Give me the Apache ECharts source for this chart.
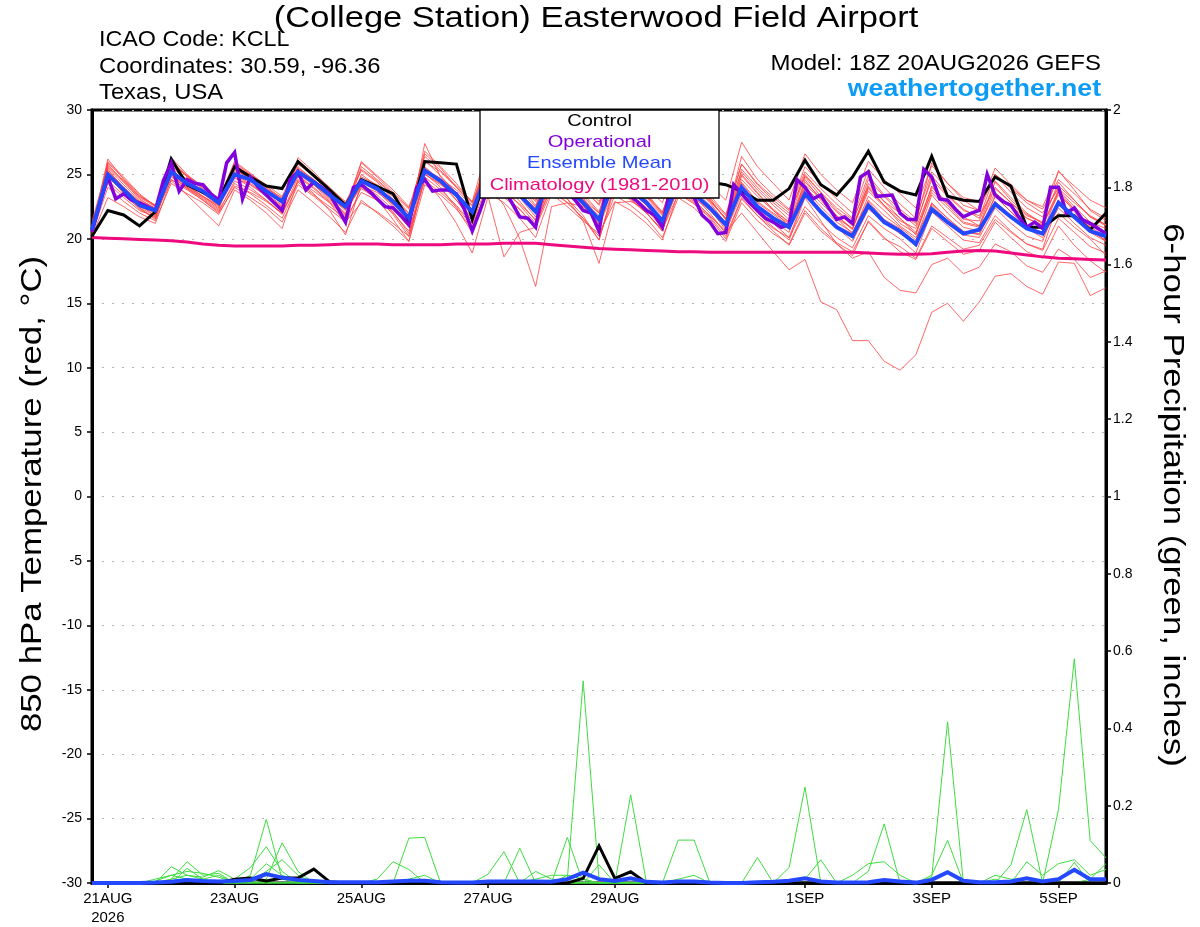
<!DOCTYPE html>
<html><head><meta charset="utf-8">
<script src="https://cdn.jsdelivr.net/npm/echarts@6/dist/echarts.min.js"></script>
<style>html,body{margin:0;padding:0;background:#fff}#c{width:1200px;height:927px}</style>
</head><body><div id="c"></div>
<script>
// ---- time axis (hours after 18Z 20AUG2026) ----
const tickHours = [6, 54, 102, 150, 198, 270, 318, 366];
const tickLabels = ['21AUG\n2026', '23AUG', '25AUG', '27AUG', '29AUG', '1SEP', '3SEP', '5SEP'];

// ---- 850 hPa temperature (C), 6-hourly, 65 values ----
const controlTemp = [20.2,
  22.2,21.85,21.0,22.1, 26.2,24.2,23.6,23.0, 25.6,24.8,24.1,23.9, 26.0,24.9,23.8,22.6,
  24.6,24.05,23.5,21.4, 26.0,25.9,25.8,21.5, 25.5,25.0,24.8,24.0, 26.0,25.3,24.5,24.0,
  25.8,25.0,24.3,23.8, 25.5,24.8,24.4,24.2, 23.7,23.0,23.0,23.9, 26.1,24.2,23.4,24.8,
  26.8,24.4,23.7,23.4, 26.4,23.3,23.0,22.9, 24.8,24.1,20.9,20.9, 21.8,21.8,20.7,22.0];

const meanTemp = [20.7,
  25.0,23.8,22.6,22.2, 25.2,24.3,23.7,22.8, 25.0,24.6,23.7,22.9, 25.2,24.4,23.4,22.5,
  24.5,23.9,22.9,21.6, 25.3,24.5,23.4,22.1, 25.3,24.3,23.4,22.1, 24.8,24.0,22.8,21.5,
  24.6,23.8,22.8,21.4, 24.3,23.5,22.4,21.1, 24.0,22.5,21.6,20.9, 23.5,22.1,20.9,20.2,
  22.6,21.3,20.6,19.6, 22.3,21.3,20.4,20.7, 22.7,21.7,20.8,20.4, 22.8,21.7,20.6,20.2];

const climatology = [20.1,
  20.05,20.0,19.95,19.9, 19.85,19.75,19.6,19.5, 19.45,19.45,19.45,19.45, 19.5,19.5,19.55,19.6,
  19.6,19.6,19.55,19.55, 19.55,19.55,19.6,19.6, 19.6,19.65,19.65,19.65, 19.55,19.45,19.35,19.25,
  19.2,19.15,19.1,19.05, 19.0,19.0,18.95,18.95, 18.95,18.95,18.95,18.95, 18.95,18.95,18.95,18.95,
  18.9,18.85,18.8,18.8, 18.85,18.95,19.05,19.1, 19.05,18.9,18.75,18.6, 18.5,18.45,18.4,18.35];

// operational run, 3-hourly, 129 values
const operationalTemp = [20.55,
  22.7,24.8,23.1,23.5,23.0,22.8,22.5,22.2, 24.5,25.9,23.7,24.6,24.3,24.2,23.5,23.0,
  25.9,26.7,23.1,24.8,24.0,23.4,22.8,22.2, 24.6,25.2,23.8,24.4,24.0,23.5,22.4,21.3,
  24.0,24.2,23.7,23.1,22.5,22.4,21.8,21.1, 24.0,24.6,23.7,23.8,23.8,23.5,22.3,20.6,
  22.2,24.0,24.5,23.8,22.8,21.7,21.6,20.9, 24.0,24.8,23.5,23.6,23.0,22.2,22.0,20.6,
  24.2,24.6,23.5,23.3,22.8,22.2,21.85,20.9, 24.0,24.5,23.5,23.2,21.85,21.3,20.4,20.5,
  24.2,23.5,22.8,22.2,21.6,21.3,20.9,21.1, 24.6,24.0,23.1,23.4,22.4,21.5,21.7,21.2,
  24.8,25.2,23.3,23.35,23.4,22.0,21.5,21.5, 25.4,24.8,23.1,23.0,22.3,21.7,22.0,22.2,
  25.0,23.4,22.9,22.6,21.7,20.9,21.3,20.8, 24.0,24.0,22.0,22.4,21.5,21.2,20.8,20.4];

// ensemble members, 6-hourly, 65 values each
const ensembleMembers = [
 [20.8, 26.2,24.6,23.3,22.6, 25.8,24.9,24.1,23.0, 25.6,25.0,24.2,23.3, 25.9,25.0,24.0,22.8, 25.4,24.5,23.4,22.0, 26.8,25.6,24.3,22.8, 26.2,25.3,24.2,22.6, 25.9,24.8,23.5,22.1, 25.8,24.6,23.4,22.0, 25.6,24.5,23.2,21.8, 25.2,23.8,22.6,21.5, 24.8,23.3,22.1,21.0, 23.9,22.6,21.6,20.5, 23.6,22.4,21.2,20.9, 24.0,22.8,21.6,21.0, 23.8,22.5,21.3,20.8],
 [20.4, 24.0,22.9,22.0,21.4, 24.3,23.5,22.8,21.9, 24.1,23.6,22.9,22.0, 24.4,23.4,22.5,21.6, 23.6,23.0,22.0,20.6, 24.5,23.6,22.5,21.0, 24.0,23.2,22.3,20.9, 23.7,22.8,21.6,20.2, 23.4,22.6,21.6,20.1, 23.2,22.4,21.2,19.8, 22.8,21.4,20.4,19.6, 22.2,20.8,19.7,19.0, 21.3,20.0,19.4,18.5, 21.0,20.1,19.2,19.5, 21.5,20.5,19.6,19.1, 21.6,20.5,19.4,18.9],
 [20.6, 25.5,24.2,23.0,22.4, 25.9,24.8,24.0,23.1, 25.3,24.8,23.9,23.2, 25.5,24.6,23.6,22.7, 24.8,24.2,23.3,21.9, 26.0,25.2,24.0,22.8, 25.8,25.0,24.1,22.9, 25.6,24.8,23.8,22.7, 25.9,25.1,24.0,22.8, 26.2,25.3,24.2,23.0, 27.5,25.6,24.3,23.0, 26.6,25.0,23.8,22.8, 26.0,24.6,23.5,22.4, 25.7,24.3,23.2,22.9, 25.0,24.0,23.0,22.5, 25.2,24.1,23.0,22.4],
 [21.0, 25.0,23.5,22.3,21.6, 24.9,23.9,23.0,22.1, 24.5,23.8,23.0,22.0, 24.8,23.9,22.8,21.2, 24.0,23.1,21.5,19.8, 25.1,24.0,22.4,20.5, 24.2,22.6,20.0,16.3, 22.5,22.8,22.5,21.6, 24.8,23.8,22.7,21.5, 24.5,23.6,22.5,21.2, 24.3,22.8,21.9,21.0, 23.9,22.5,21.3,20.5, 23.0,21.8,20.9,19.9, 23.4,22.0,20.9,20.6, 23.3,22.1,21.0,20.5, 23.7,22.3,20.9,20.2],
 [20.9, 25.3,24.0,22.8,22.1, 25.4,24.3,23.5,22.6, 24.9,24.2,23.4,22.5, 25.0,24.2,23.2,22.2, 24.7,23.9,22.8,21.3, 25.5,24.6,23.3,21.8, 25.2,24.3,23.2,21.7, 24.6,23.8,22.6,21.2, 24.2,23.5,22.4,21.0, 23.8,22.9,21.8,20.5, 22.0,20.5,19.0,17.6, 18.4,15.1,14.5,12.1, 12.1,10.5,9.8,11.0, 14.3,15.0,13.6,15.1, 17.1,17.3,16.3,15.7, 18.2,18.1,15.6,16.2],
 [20.5, 25.8,24.4,23.1,22.3, 25.0,24.1,23.3,22.4, 25.2,24.5,23.6,22.8, 25.3,24.3,23.1,22.0, 24.2,23.4,22.3,20.9, 25.6,24.5,23.0,21.6, 25.3,24.5,23.6,22.3, 25.0,24.3,23.1,21.5, 24.6,23.7,22.6,21.3, 24.0,23.0,21.8,20.6, 23.5,22.0,20.9,19.9, 23.2,21.4,19.6,18.5, 19.0,17.0,16.0,15.8, 18.0,18.5,17.3,17.8, 19.6,19.0,17.9,17.4, 19.2,18.4,17.0,17.5],
 [20.3, 26.0,24.8,23.5,22.5, 26.1,24.9,23.8,22.8, 25.4,24.6,23.7,22.7, 25.6,24.5,23.3,22.3, 25.9,24.8,23.6,22.4, 26.4,25.3,24.1,22.9, 27.2,25.5,23.8,22.5, 25.3,24.4,23.3,22.0, 25.6,24.6,23.5,22.1, 25.2,24.2,23.0,21.5, 24.6,23.3,22.2,21.3, 24.4,23.2,21.8,20.7, 24.3,22.9,21.6,20.3, 23.8,22.6,21.3,21.0, 24.5,23.2,22.0,21.2, 25.3,23.8,22.2,21.4],
 [21.2, 24.8,23.6,22.5,22.0, 25.7,24.6,23.6,22.9, 25.8,24.9,23.8,22.9, 26.1,25.0,23.8,22.6, 24.1,23.6,22.7,21.8, 25.0,24.2,23.4,22.3, 24.7,24.0,23.4,22.4, 24.1,23.7,23.0,22.0, 24.5,23.9,23.0,21.8, 24.9,24.0,22.9,21.6, 24.4,22.9,22.0,21.2, 23.5,22.0,21.0,20.4, 22.9,21.5,20.8,19.4, 22.6,21.4,20.3,20.1, 22.4,21.2,20.2,19.8, 23.0,21.8,20.6,19.9],
 [20.7, 25.4,23.9,22.6,21.8, 26.3,25.0,24.0,23.0, 25.0,24.3,23.5,22.6, 24.9,24.0,22.9,21.8, 25.0,24.1,22.6,20.9, 27.4,24.8,23.6,22.2, 26.5,25.4,24.3,23.0, 26.2,25.2,24.0,22.6, 25.2,24.3,23.2,21.9, 26.0,24.8,23.4,21.9, 25.8,24.3,23.2,22.2, 25.6,24.3,23.1,22.0, 25.4,24.0,22.7,21.6, 25.2,23.9,22.6,22.2, 25.5,24.2,23.0,22.3, 24.6,23.5,22.3,21.6],
 [20.2, 23.2,22.5,21.7,21.2, 24.6,23.8,23.0,22.0, 24.0,23.2,22.4,21.3, 23.8,22.8,21.7,20.5, 23.0,22.0,21.0,19.8, 24.2,23.4,22.3,20.8, 23.6,22.8,21.6,20.1, 23.5,22.5,21.4,20.4, 22.9,22.2,21.2,19.9, 23.6,22.8,21.6,20.0, 23.1,21.8,20.6,19.5, 22.0,20.6,19.6,18.7, 21.4,20.1,19.0,18.4, 20.8,19.8,18.8,19.1, 21.3,20.1,19.0,18.5, 21.0,19.5,18.3,17.4],
 [20.9, 25.9,24.7,23.4,22.6, 25.5,24.6,23.7,22.8, 25.9,25.0,24.0,23.0, 25.2,24.3,23.3,22.3, 26.0,24.9,23.8,22.5, 25.2,24.4,23.4,22.0, 25.5,24.6,23.5,22.3, 26.3,25.4,24.2,22.9, 25.1,24.3,23.3,22.0, 24.7,24.0,23.0,21.6, 25.8,24.2,23.0,22.0, 24.9,23.6,22.4,21.5, 24.1,22.9,22.0,21.2, 24.6,23.3,22.2,21.8, 23.9,22.8,21.8,21.3, 24.4,23.0,21.7,21.1],
 [21.4, 25.6,24.4,23.2,22.5, 24.6,23.9,23.2,22.3, 25.6,24.8,23.8,22.8, 25.1,24.2,23.0,21.9, 24.4,23.7,22.5,21.0, 26.1,24.9,23.5,21.9, 24.5,23.4,22.3,20.9, 24.9,24.0,22.9,21.8, 25.3,24.3,23.0,21.4, 23.9,23.2,22.2,20.9, 23.8,22.6,21.4,20.5, 24.6,23.0,21.6,20.4, 23.3,22.2,21.0,20.1, 22.7,21.6,20.5,20.4, 23.3,22.1,20.8,20.1, 22.4,21.2,20.1,19.5],
 [20.6, 24.5,23.4,22.4,21.8, 25.2,24.2,23.3,22.5, 24.7,24.2,23.3,22.4, 25.4,24.6,23.6,22.5, 23.9,23.1,22.1,20.4, 25.3,24.3,23.0,21.4, 25.0,23.9,22.6,21.2, 23.9,22.8,21.6,19.9, 24.0,23.1,22.0,20.7, 23.5,22.7,21.7,20.2, 23.2,21.8,20.8,20.1, 22.5,21.2,20.1,19.3, 21.8,20.8,20.0,18.9, 22.1,21.0,19.9,19.7, 21.8,20.6,19.6,19.2, 22.9,21.7,20.5,19.8],
 [20.5, 25.2,24.0,22.9,22.2, 25.9,24.9,23.9,23.1, 26.0,25.1,24.1,23.1, 25.8,24.9,23.9,22.9, 24.5,24.0,23.0,21.6, 26.6,25.5,24.0,22.6, 25.7,24.7,23.5,22.0, 25.3,24.2,22.8,21.0, 25.0,24.0,22.8,21.2, 25.4,24.4,23.1,21.5, 26.4,24.6,23.4,22.3, 25.2,23.9,22.7,21.6, 24.9,23.4,22.3,21.3, 25.9,24.3,23.0,22.2, 25.0,23.9,22.8,22.0, 23.9,22.8,21.8,21.1],
 [21.1, 24.3,23.2,22.2,21.7, 25.0,24.0,23.1,22.2, 24.3,23.5,22.6,21.6, 24.2,23.3,22.3,21.3, 22.8,22.1,21.2,20.2, 24.8,23.8,22.6,21.2, 24.4,23.6,22.7,21.5, 24.7,23.6,22.5,21.1, 23.8,23.0,22.0,20.6, 24.2,23.3,22.0,20.4, 24.1,22.4,21.2,20.1, 23.4,22.0,20.9,19.8, 22.3,21.3,20.4,19.6, 22.8,21.6,20.6,20.3, 22.9,21.8,20.9,20.5, 22.0,20.9,20.0,18.7],
 [20.4, 25.7,24.5,23.3,22.6, 24.8,24.0,23.3,22.6, 25.5,24.6,23.4,22.3, 26.3,25.2,23.9,22.7, 25.3,24.4,23.1,21.4, 25.0,24.3,23.3,22.0, 25.6,24.4,22.9,21.4, 24.4,23.1,21.8,19.9, 24.3,23.3,22.0,20.6, 24.7,23.6,22.3,20.7, 24.9,23.5,22.3,21.3, 24.0,22.8,21.6,20.8, 23.7,22.5,21.4,20.8, 24.0,22.8,21.7,21.0, 23.6,22.5,21.6,21.1, 23.4,22.3,21.0,20.4],
 [20.8, 24.9,23.9,22.8,22.0, 24.5,23.4,22.2,21.0, 23.8,23.0,22.0,20.8, 24.6,23.5,22.2,20.3, 24.3,23.2,21.9,20.2, 24.6,23.1,21.2,18.9, 23.3,18.6,20.5,20.9, 24.3,23.1,21.4,18.1, 22.8,22.9,22.3,20.8, 24.6,23.8,22.6,21.3, 25.0,23.6,22.2,21.0, 24.2,23.1,21.8,20.8, 24.0,22.6,21.2,20.4, 24.1,22.7,21.5,21.4, 24.4,23.0,21.9,21.2, 23.6,22.1,20.8,19.8],
 [20.3, 25.1,23.7,22.4,21.5, 25.3,24.4,23.5,22.7, 24.8,24.0,23.0,21.9, 24.5,23.7,22.8,21.7, 25.6,24.6,23.5,22.3, 25.4,24.7,23.8,22.5, 26.8,25.2,23.7,22.0, 25.6,24.6,23.2,21.5, 24.9,23.9,22.6,20.9, 25.1,24.1,22.8,21.2, 25.4,24.0,22.8,21.8, 25.0,23.6,22.2,21.2, 24.6,23.3,22.0,21.0, 24.9,23.4,22.3,21.6, 25.0,23.6,22.4,21.7, 24.1,23.0,21.7,21.0]
];

// ---- 6-hour precipitation (inches), 6-hourly, 65 values ----
const controlPrecip = [0,0,0,0,0, 0,0,0,0,0.01, 0.013,0.005,0.013,0.013,0.036, 0.003,0,0,0,0, 0,0,0,0,0,
  0,0,0,0,0, 0,0.012,0.096,0.012,0.029, 0,0,0,0,0, 0,0,0,0,0, 0,0,0,0,0, 0,0,0,0,0, 0,0,0,0,0, 0,0,0,0,0];
const meanPrecip = [0,0,0,0,0.001, 0.003,0.008,0.005,0.004,0.005, 0.008,0.023,0.014,0.008,0.005, 0.002,0.002,0.002,0.002,0.004,
  0.006,0.006,0.002,0.001,0.001, 0.004,0.004,0.004,0.004,0.003, 0.01,0.027,0.01,0.005,0.012, 0.003,0.001,0.004,0.004,0.001,
  0,0,0.002,0.003,0.006, 0.012,0.004,0.001,0.001,0.002, 0.008,0.004,0.001,0.008,0.028, 0.006,0.002,0.002,0.004,0.012,
  0.004,0.01,0.034,0.01,0.01];
const memberPrecip = [
 [0,0,0,0,0.005, 0.02,0.01,0,0,0, 0.02,0.165,0.01,0,0, 0,0,0,0,0, 0,0,0,0,0, 0,0,0,0,0, 0.01,0.523,0.01,0,0, 0,0,0,0,0, 0,0,0,0,0, 0,0,0,0,0, 0,0,0,0.01,0.03, 0,0,0,0,0, 0,0,0,0,0],
 [0,0,0,0,0, 0.01,0.02,0.015,0.032,0.01, 0.04,0.094,0.03,0,0, 0,0,0,0,0, 0,0,0,0,0, 0,0,0,0,0, 0,0,0.047,0,0, 0,0,0,0,0, 0,0,0,0,0, 0,0,0,0,0, 0,0,0,0.015,0.417, 0,0,0,0,0, 0,0,0,0,0],
 [0,0,0,0,0, 0,0,0,0,0, 0,0.01,0.104,0.03,0, 0,0,0,0,0, 0,0,0,0,0, 0,0,0,0.03,0.01, 0,0,0,0,0.228, 0,0,0,0,0, 0,0,0,0,0, 0,0,0,0,0, 0,0,0,0,0, 0,0,0,0,0, 0,0,0,0.01,0.05],
 [0,0,0,0,0, 0.042,0.02,0.01,0,0, 0,0,0,0,0, 0,0,0,0.01,0.055, 0.035,0,0,0,0, 0,0,0,0,0, 0,0,0,0,0, 0,0,0.111,0.111,0, 0,0,0,0,0, 0,0,0,0,0, 0,0,0,0,0, 0,0,0,0.047,0.19, 0,0,0,0,0],
 [0,0,0,0,0, 0.01,0.055,0.02,0.025,0, 0,0,0,0,0, 0,0,0,0,0, 0.116,0.118,0,0,0, 0,0,0,0,0, 0,0,0,0,0, 0,0,0,0,0, 0,0,0.066,0,0, 0,0,0,0,0, 0,0,0,0,0, 0,0,0,0,0, 0,0.19,0.58,0.11,0.065],
 [0,0,0,0,0, 0,0.038,0.01,0.02,0, 0.01,0.05,0.02,0,0, 0,0,0,0,0, 0,0,0,0,0, 0.023,0.081,0,0,0, 0,0,0,0,0, 0,0,0,0,0, 0,0,0,0,0.04, 0.248,0,0,0,0, 0,0,0,0,0, 0,0,0,0,0, 0,0,0,0,0],
 [0,0,0,0,0, 0,0,0,0,0, 0.005,0.03,0.06,0.02,0, 0,0,0,0,0, 0,0,0,0,0, 0,0,0.09,0,0, 0.02,0.01,0,0,0, 0,0,0,0,0, 0,0,0,0,0, 0.01,0.06,0,0,0, 0,0,0,0,0, 0,0,0.01,0,0.055, 0.02,0.05,0.06,0.02,0.035],
 [0,0,0,0,0, 0,0,0,0,0, 0,0,0,0,0, 0,0,0,0,0, 0,0,0,0,0, 0,0,0,0,0, 0.118,0,0,0,0, 0,0,0,0,0, 0,0,0,0,0, 0,0,0,0,0.03, 0.153,0,0,0,0, 0,0,0,0,0, 0,0,0,0,0],
 [0,0,0,0,0, 0,0,0,0,0, 0,0,0,0,0, 0,0,0,0,0, 0,0,0,0,0, 0,0,0,0,0, 0,0,0,0,0, 0,0,0,0,0, 0,0,0,0,0, 0,0,0,0.02,0.05, 0.055,0.02,0,0.02,0.11, 0,0,0,0,0, 0,0,0.053,0,0],
 [0,0,0,0,0.01, 0.02,0.03,0.025,0.015,0, 0,0,0,0,0, 0,0,0,0,0, 0.01,0.02,0,0,0, 0,0,0,0.01,0.02, 0.02,0.01,0,0,0, 0,0,0.01,0.02,0, 0,0,0,0,0, 0,0,0,0,0, 0,0,0,0,0, 0,0,0.02,0.01,0.01, 0,0,0,0,0]
];

// ---- styling constants ----
const FONT = '"Liberation Sans", Arial, Helvetica, sans-serif';
const RED = 'rgba(255,62,62,0.78)';
const GREEN = '#3fdc3f';
const PURPLE = '#8200dc';
const BLUE = '#2448ff';
const MAGENTA = '#ee0a7e';

const six = arr => arr.map((v, i) => [i * 6, v]);
const three = arr => arr.map((v, j) => [j * 3, v]);

const baseLine = (name, data, yIdx, color, width, z) => ({
  name, type: 'line', data, yAxisIndex: yIdx, symbol: 'none', silent: true,
  lineStyle: { color, width, join: 'miter' }, z, animation: false, clip: true
});

const series = [];
ensembleMembers.forEach((m, k) => series.push(baseLine('m' + k, six(m), 0, RED, 1, 2)));
memberPrecip.forEach((m, k) => series.push(baseLine('p' + k, six(m), 1, GREEN, 1, 2)));
series.push(baseLine('Climatology', six(climatology), 0, MAGENTA, 3, 5));
series.push(baseLine('Control', six(controlTemp), 0, '#000', 3, 6));
series.push(baseLine('ControlP', six(controlPrecip), 1, '#000', 3, 6));
series.push(baseLine('Operational', three(operationalTemp), 0, PURPLE, 3.5, 7));
series.push(baseLine('Mean', six(meanTemp), 0, BLUE, 4, 8));
series.push(baseLine('MeanP', six(meanPrecip), 1, BLUE, 4, 8));

const txt = (text, x, y, size, opts = {}) => ({
  type: 'text', x, y, z: 200, scaleX: opts.sx || 1.08, rotation: opts.rot || 0,
  style: {
    text, fill: opts.color || '#000',
    font: (opts.bold ? 'bold ' : '') + size + 'px ' + FONT,
    textAlign: opts.align || 'left', textVerticalAlign: 'middle'
  }
});

const chart = echarts.init(document.getElementById('c'), null, { renderer: 'canvas' });
chart.setOption({
  animation: false,
  backgroundColor: '#fff',
  grid: { left: 92, right: 94, top: 110, bottom: 44, show: true, borderColor: '#000', borderWidth: 3, backgroundColor: 'transparent' },
  xAxis: {
    type: 'value', min: 0, max: 384,
    axisLine: { show: true, onZero: false, lineStyle: { color: '#000', width: 3 } },
    axisTick: { show: true, customValues: tickHours, length: 5, lineStyle: { color: '#000', width: 1.5 } },
    axisLabel: {
      customValues: tickHours, color: '#000', fontSize: 15, fontFamily: FONT, margin: 6, lineHeight: 19,
      formatter: v => { const k = tickHours.indexOf(v); return k >= 0 ? tickLabels[k] : ''; }
    },
    splitLine: { show: false }
  },
  yAxis: [{
    type: 'value', min: -30, max: 30, interval: 5, position: 'left',
    axisLine: { show: true, onZero: false, lineStyle: { color: '#000', width: 3 } },
    axisTick: { show: true, length: 5, lineStyle: { color: '#000', width: 1.5 } },
    axisLabel: { color: '#000', fontSize: 14, fontFamily: FONT, margin: 10 },
    splitLine: { show: true, lineStyle: { color: '#b4b4b4', width: 1.2, type: [2, 8] } }
  }, {
    type: 'value', min: 0, max: 2, interval: 0.2, position: 'right',
    axisLine: { show: true, onZero: false, lineStyle: { color: '#000', width: 3 } },
    axisTick: { show: true, length: 5, lineStyle: { color: '#000', width: 1.5 } },
    axisLabel: { color: '#000', fontSize: 14, fontFamily: FONT, margin: 7 },
    splitLine: { show: false }
  }],
  series,
  graphic: [
    txt('(College Station) Easterwood Field Airport', 596, 19, 29, { align: 'center', sx: 1.19 }),
    txt('ICAO Code: KCLL', 99, 39.5, 22, { sx: 1.06 }),
    txt('Coordinates: 30.59, -96.36', 99, 67, 22, { sx: 1.08 }),
    txt('Texas, USA', 99, 93, 22, { sx: 1.08 }),
    txt('Model: 18Z 20AUG2026 GEFS', 1101, 64, 22, { align: 'right', sx: 1.09 }),
    txt('weathertogether.net', 1101, 89, 24, { align: 'right', bold: true, color: '#0c9cf6', sx: 1.11 }),
    { type: 'rect', z: 150, shape: { x: 480, y: 110, width: 239, height: 88 },
      style: { fill: '#fff', stroke: '#000', lineWidth: 1.3 } },
    txt('Control', 599.5, 121, 17, { align: 'center', sx: 1.18 }),
    txt('Operational', 599.5, 142, 17, { align: 'center', sx: 1.18, color: PURPLE }),
    txt('Ensemble Mean', 599.5, 163.5, 17, { align: 'center', sx: 1.18, color: BLUE }),
    txt('Climatology (1981-2010)', 599.5, 185, 17, { align: 'center', sx: 1.18, color: MAGENTA }),
    txt('850 hPa Temperature (red, \u00B0C)', 33, 494, 29, { align: 'center', sx: 1.2, rot: Math.PI / 2 }),
    txt('6-hour Precipitation (green, inches)', 1172, 495, 29, { align: 'center', sx: 1.2, rot: -Math.PI / 2 })
  ]
});
</script>
</body></html>
